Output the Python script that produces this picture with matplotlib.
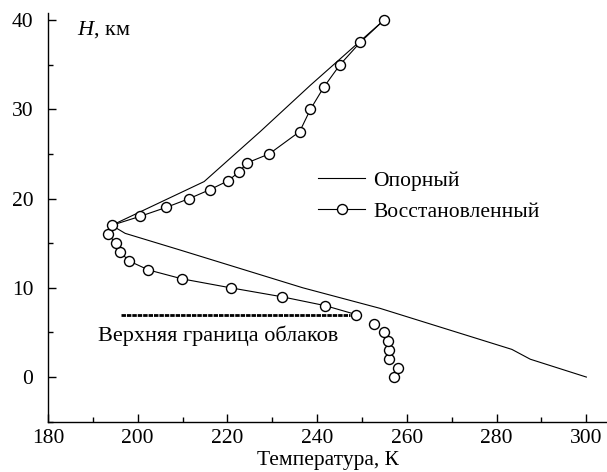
import matplotlib
matplotlib.use("Agg")
import matplotlib.pyplot as plt
from matplotlib.ticker import MultipleLocator

plt.rcParams['font.family'] = ['Liberation Serif', 'DejaVu Serif']
plt.rcParams['mathtext.fontset'] = 'custom'
plt.rcParams['mathtext.rm'] = 'Liberation Serif'
plt.rcParams['mathtext.it'] = 'Liberation Serif:italic'

# Reference profile (Опорный)
ref_T = [300.0, 287.5, 283.4, 254.0, 236.8, 209.4, 197.2, 194.2, 214.8, 227.3, 238.5, 254.9]
ref_H = [0.0, 2.0, 3.1, 7.7, 10.0, 14.24, 16.1, 17.0, 21.9, 27.5, 32.7, 40.0]

# Retrieved profile (Восстановленный), above cloud top (connected)
rec_H = [7, 8, 9, 10, 11, 12, 13, 14, 15, 16, 17, 18, 19, 20, 21, 22, 23, 24, 25,
         27.5, 30, 32.5, 35, 37.5, 40]
rec_T = [248.7, 241.8, 232.1, 220.7, 209.9, 202.4, 198.1, 196.1, 195.2, 193.3, 194.2,
         200.5, 206.3, 211.5, 216.1, 220.2, 222.6, 224.4, 229.3,
         236.1, 238.5, 241.5, 245.1, 249.6, 254.9]

# Retrieved points below the cloud top (markers only)
low_H = [0, 1, 2, 3, 4, 5, 6]
low_T = [257.1, 258.0, 256.0, 256.1, 255.7, 254.8, 252.7]

# Cloud top
cloud_T = [196.3, 247.3]
cloud_H = [6.9, 6.9]

W, H = 607, 472
fig = plt.figure(figsize=(W / 100, H / 100), dpi=100)
ax = fig.add_axes([48 / W, (H - 421.7) / H, (W - 48) / W, (421.7 - 12.7) / H])

ax.plot(ref_T, ref_H, color='black', lw=0.8, label='Опорный')
mk = dict(marker='o', markersize=7.2, markerfacecolor='white', markeredgecolor='black',
          markeredgewidth=1.0)
ax.plot(rec_T, rec_H, color='black', lw=0.8, label='Восстановленный', **mk)
ax.plot(low_T, low_H, linestyle='none', **mk)
ax.plot(cloud_T, cloud_H, color='black', lw=2.0, linestyle=(0, (1.6, 0.35)))

ax.set_xlim(180, 304.6)
ax.set_ylim(-5.0, 40.82)

for s in ['top', 'right']:
    ax.spines[s].set_visible(False)
for s in ['left', 'bottom']:
    ax.spines[s].set_linewidth(1.0)

ax.xaxis.set_major_locator(MultipleLocator(20))
ax.xaxis.set_minor_locator(MultipleLocator(10))
ax.yaxis.set_major_locator(MultipleLocator(10))
ax.yaxis.set_minor_locator(MultipleLocator(5))
ax.tick_params(which='major', direction='in', length=6, width=1.0, labelsize=15.5)
ax.tick_params(which='minor', direction='in', length=3.3, width=1.0)
ax.tick_params(axis='y', which='major', pad=10.5)
ax.tick_params(axis='x', which='major', pad=5)
ax.set_xticks([180, 200, 220, 240, 260, 280, 300])
ax.set_yticks([0, 10, 20, 30, 40])

ax.set_xlabel('Температура, К', fontsize=15.5, labelpad=2.5)

ax.text(186.5, 38.9, r'$H$, км', fontsize=16, ha='left', va='center')
ax.text(191.1, 4.6, 'Верхняя граница облаков', fontsize=16, ha='left', va='center')

leg = ax.legend(loc='upper left', bbox_to_anchor=(240.2, 23.1),
                bbox_transform=ax.transData, frameon=False, fontsize=15.5,
                handlelength=2.2, handletextpad=0.36, labelspacing=0.5,
                borderpad=0, borderaxespad=0)

fig.savefig('out.png', dpi=100)
